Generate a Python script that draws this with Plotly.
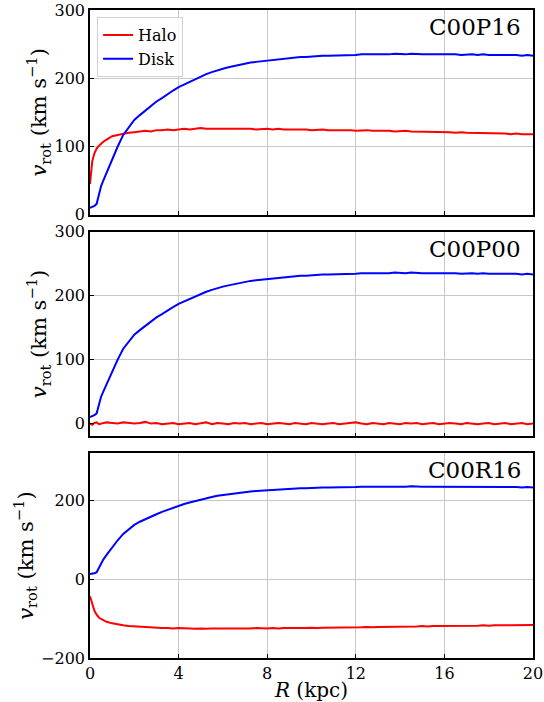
import plotly.graph_objects as go
from plotly.subplots import make_subplots

R = [0.0, 0.1, 0.2, 0.3, 0.4, 0.5, 0.6, 0.75,
     1.0, 1.25, 1.5, 1.75, 2.0, 2.25, 2.5, 2.75, 3.0, 3.25, 3.5, 3.75,
     4.0, 4.25, 4.5, 4.75, 5.0, 5.25, 5.5, 5.75, 6.0, 6.25, 6.5, 6.75,
     7.0, 7.25, 7.5, 7.75, 8.0, 8.25, 8.5, 8.75, 9.0, 9.25, 9.5, 9.75,
     10.0, 10.25, 10.5, 10.75, 11.0, 11.25, 11.5, 11.75, 12.0, 12.25, 12.5, 12.75,
     13.0, 13.25, 13.5, 13.75, 14.0, 14.25, 14.5, 14.75, 15.0, 15.25, 15.5, 15.75,
     16.0, 16.25, 16.5, 16.75, 17.0, 17.25, 17.5, 17.75, 18.0, 18.25, 18.5, 18.75,
     19.0, 19.25, 19.5, 19.75, 20.0]

disk = [10, 11, 13, 16, 30, 42, 50, 62,
        82, 100, 117, 128, 139, 146, 153, 159, 166, 171, 177, 182,
        187, 191, 195, 199, 203, 206, 209, 212, 214, 216, 218, 220,
        221, 223, 224, 225, 226, 227, 228, 229, 229, 230, 231, 231,
        232, 232, 233, 233, 233, 234, 234, 234, 234, 235, 235, 234,
        235, 235, 235, 236, 235, 235, 236, 235, 235, 235, 235, 236,
        235, 235, 235, 234, 235, 235, 234, 235, 234, 234, 235, 234,
        234, 234, 233, 234, 233]

disk_r16 = [13, 14, 15, 18, 30, 42, 50, 62,
            82, 99, 115, 127, 138, 146, 153, 159, 165, 171, 176, 182,
            187, 191, 195, 199, 202, 206, 209, 212, 214, 216, 218, 220,
            221, 223, 224, 225, 226, 227, 228, 229, 229, 230, 231, 231,
            232, 232, 233, 233, 233, 234, 234, 234, 234, 235, 235, 234,
            235, 235, 235, 235, 235, 235, 236, 235, 235, 235, 235, 235,
            235, 235, 235, 234, 235, 235, 234, 235, 234, 234, 235, 234,
            234, 234, 233, 234, 233]

halo_p16 = [45, 78, 90, 97, 101, 104, 107, 110,
            115, 117, 119, 120, 121, 122, 123, 122, 124, 124, 125, 124,
            125, 126, 125, 126, 127, 126, 126, 127, 126, 126, 127, 126,
            126, 126, 125, 126, 126, 125, 126, 125, 125, 126, 125, 125,
            124, 125, 125, 124, 124, 125, 124, 124, 123, 124, 124, 123,
            123, 124, 123, 122, 123, 123, 122, 122, 122, 121, 122, 121,
            121, 121, 120, 121, 120, 120, 120, 119, 120, 119, 119, 119,
            118, 119, 118, 118, 118]

halo_p00 = [0, -2, 1, 2, -1, 0, 1, 2,
            1, 0, 2, 1, 0, 1, 3, 0, 1, -1, 0, 1,
            -1, 0, 1, -1, 0, 2, -1, 1, 0, -1, 1, 0,
            1, -1, 0, 1, -1, 0, 1, 0, -1, 1, 0, -1,
            1, 0, -1, 0, 1, -1, 0, 1, 2, 0, -1, 1,
            0, -1, 1, 0, -1, 1, 0, 1, -1, 0, 1, -1,
            0, 1, 0, -1, 1, 0, -1, 0, 1, -1, 0, 1,
            -1, 0, 1, -1, 0]

halo_r16 = [-43, -65, -80, -90, -97, -101, -104, -108,
            -112, -115, -117, -119, -120, -121, -122, -123, -123, -124, -124, -125,
            -124, -125, -125, -126, -125, -126, -125, -125, -126, -125, -125, -126,
            -125, -125, -124, -125, -125, -124, -125, -124, -124, -125, -124, -124,
            -123, -124, -123, -123, -123, -122, -123, -122, -122, -122, -121, -122,
            -121, -121, -121, -120, -121, -120, -120, -120, -119, -120, -119, -119,
            -119, -119, -118, -119, -118, -118, -118, -117, -118, -117, -117, -117,
            -116, -117, -116, -116, -116]

panel_names = ["C00P16", "C00P00", "C00R16"]
halo_series = [halo_p16, halo_p00, halo_r16]
disk_series = [disk, disk, disk_r16]
y_ranges = [[0, 300], [-20, 300], [-200, 320]]
y_ticks = [[0, 100, 200, 300], [0, 100, 200, 300], [-200, 0, 200]]
x_ticks = [0, 4, 8, 12, 16, 20]

FONT = "DejaVu Serif"

fig = make_subplots(rows=3, cols=1, shared_xaxes=True, vertical_spacing=0.026)

for i in range(3):
    fig.add_trace(go.Scatter(x=R, y=halo_series[i], mode="lines", name="Halo",
                             line=dict(color="red", width=2), showlegend=(i == 0)),
                  row=i + 1, col=1)
    fig.add_trace(go.Scatter(x=R, y=disk_series[i], mode="lines", name="Disk",
                             line=dict(color="blue", width=2), showlegend=(i == 0)),
                  row=i + 1, col=1)
    fig.update_yaxes(range=y_ranges[i], tickvals=y_ticks[i], row=i + 1, col=1)
    ax = "x" if i == 0 else "x%d" % (i + 1)
    fig.add_annotation(text=panel_names[i], xref=ax + " domain",
                       yref=("y" if i == 0 else "y%d" % (i + 1)) + " domain",
                       x=0.978, y=0.99, xanchor="right", yanchor="top",
                       showarrow=False, font=dict(family=FONT, size=23, color="black"))

fig.update_xaxes(range=[0, 20], tickvals=x_ticks, showgrid=True, gridcolor="#c8c8c8",
                 gridwidth=1, showline=True, linecolor="black", linewidth=1.5,
                 mirror=True, ticks="inside", ticklen=4, tickcolor="black",
                 zeroline=False, automargin=False,
                 tickfont=dict(family=FONT, size=16, color="black"))
fig.update_xaxes(title=dict(text="<i>R</i> (kpc)", font=dict(family=FONT, size=20, color="black"),
                            standoff=2), row=3, col=1)
fig.update_yaxes(showgrid=True, gridcolor="#c8c8c8", gridwidth=1, showline=True,
                 linecolor="black", linewidth=1.5, mirror=True, ticks="inside",
                 ticklen=4, tickcolor="black", zeroline=False, automargin=False,
                 tickfont=dict(family=FONT, size=16, color="black"),
                 title=dict(text="<i>v</i><sub>rot</sub> (km s<sup>−1</sup>)",
                            font=dict(family=FONT, size=21, color="black"), standoff=2))

fig.update_layout(
    width=544, height=702,
    margin=dict(l=90, r=11, t=10, b=44),
    plot_bgcolor="white", paper_bgcolor="white",
    font=dict(family=FONT, color="black"),
    legend=dict(x=0.016, y=0.989, xanchor="left", yanchor="top",
                bgcolor="rgba(255,255,255,0.8)", bordercolor="#d0d0d0", borderwidth=1,
                font=dict(family=FONT, size=16, color="black"), itemwidth=30,
                tracegroupgap=0),
)

fig.write_html("out.html")
